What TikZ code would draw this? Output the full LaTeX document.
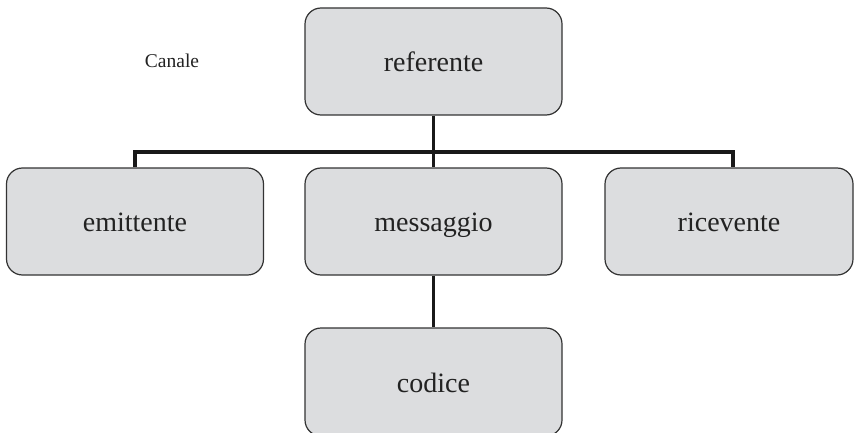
\documentclass[tikz,border=0pt]{standalone}
\usepackage{fontspec}
\setmainfont{Liberation Serif}
\definecolor{boxfill}{HTML}{DCDDDF}
\definecolor{boxline}{HTML}{333333}
\definecolor{txt}{HTML}{222222}
\begin{document}
\begin{tikzpicture}[x=1pt,y=-1pt,
  box/.style={draw=boxline,line width=1.2pt,fill=boxfill,rounded corners=16pt,
    minimum width=257pt,minimum height=107pt,inner sep=0pt,
    text height=20pt,text depth=0pt,
    font=\fontsize{28}{31}\selectfont,text=txt},
  conn/.style={line width=3.8pt,draw=black!90}]
\useasboundingbox (0,0) rectangle (854,433);
\node[box] (ref) at (433.5,61.5) {referente};
\node[box] (emit) at (135,221.5) {emittente};
\node[box] (msg) at (433.5,221.5) {messaggio};
\node[box,minimum width=248pt] (rcv) at (729,221.5) {ricevente};
\node[box,minimum height=108pt] (cod) at (433.5,382) {codice};
\node[font=\fontsize{19.5}{22}\selectfont,text=txt] (can) at (172,61) {Canale};
\coordinate (busL) at (135,152);
\coordinate (busR) at (733,152);
\draw[conn] (emit.north) -- (busL) -- (busR) -- (rcv.north -| busR);
\draw[conn] (ref.south) -- (msg.north);
\draw[conn] (msg.south) -- (cod.north);
\end{tikzpicture}
\end{document}
